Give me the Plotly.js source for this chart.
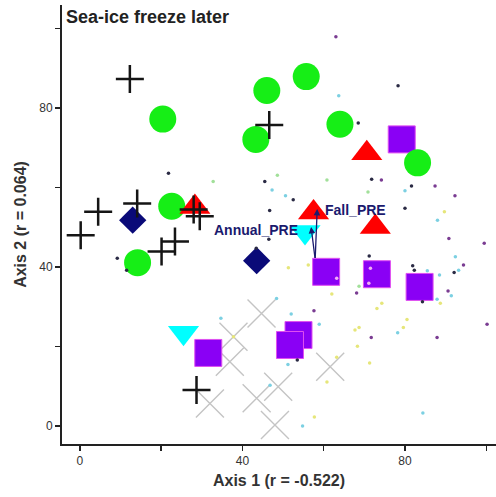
<!DOCTYPE html>
<html>
<head>
<meta charset="utf-8">
<script src="https://cdn.plot.ly/plotly-3.0.1.min.js"></script>
<style>html,body{margin:0;padding:0;background:#fff;}#chart{width:496px;height:497px;}</style>
</head>
<body>
<div id="chart"></div>
<script>
// Sample groups (ordination scores: Axis 1, Axis 2)
var crossX = [12.3, 0.2, 4.5, 14.1, 20.1, 23.4, 28.0, 29.5, 46.6, 28.7];
var crossY = [87.3, 48.0, 53.9, 56.0, 43.9, 46.4, 54.5, 52.8, 75.7, 9.1];

var circleX = [20.4, 22.6, 14.2, 46.0, 55.7, 43.3, 64.0, 83.1];
var circleY = [77.2, 55.3, 41.1, 84.4, 87.9, 72.1, 75.9, 66.2];

var triUpX = [28.3, 70.6, 72.7, 57.5];
var triUpY = [55.1, 68.6, 50.1, 53.7];

var triDownX = [55.4, 25.5];
var triDownY = [48.8, 23.5];

var diamondX = [13.0, 43.5];
var diamondY = [51.8, 41.6];

var squareX = [79.2, 60.6, 73.1, 83.6, 31.6, 53.8, 51.7];
var squareY = [72.1, 38.8, 38.2, 35.0, 18.4, 22.9, 20.4];

var xMarkX = [44.7, 37.8, 36.9, 32.0, 43.5, 48.8, 48.0, 61.6];
var xMarkY = [28.3, 22.5, 16.2, 5.7, 7.0, 9.9, 0.3, 14.9];

// Species scores (small dots), grouped by colour
var spDarkX = [78.3, 68.5, 45.5, 52.5, 46.7, 71.8, 81.6, 80.0, 46.5, 21.8, 9.2, 11.5, 71.2, 81.9, 82.3, 92.1, 84.3, 53.5, 43.4];
var spDarkY = [85.6, 76.2, 61.5, 56.9, 54.2, 62.1, 60.4, 54.8, 47.0, 63.6, 42.2, 39.2, 42.8, 40.3, 39.2, 38.6, 31.3, 16.6, 44.7];
var spPurpleX = [63.0, 74.2, 87.4, 92.3, 90.8, 99.5, 94.4, 90.6, 68.1, 71.7, 87.9, 100.2, 57.6];
var spPurpleY = [97.9, 61.9, 60.4, 57.9, 47.2, 46.0, 40.5, 34.0, 33.5, 22.3, 22.3, 25.6, 29.0];
var spCyanX = [63.7, 47.3, 50.6, 80.0, 88.0, 48.4, 85.5, 88.5, 92.4, 93.2, 87.9, 91.4, 78.2, 84.4, 34.7, 52.0, 58.9, 51.2, 46.8, 54.8];
var spCyanY = [83.1, 59.4, 57.9, 59.2, 51.8, 32.1, 39.1, 38.0, 42.6, 39.2, 31.9, 32.8, 23.5, 3.3, 27.1, 28.2, 25.6, 15.5, 10.3, 0.0];
var spGreenX = [48.6, 60.8, 70.9, 32.8, 68.7];
var spGreenY = [63.1, 61.9, 58.9, 61.5, 35.2];
var spYellowX = [89.7, 51.3, 56.2, 74.3, 73.1, 88.7, 80.5, 79.6, 68.7, 67.7, 68.3, 71.3, 62.0, 37.8, 60.8, 57.7, 63.2];
var spYellowY = [53.9, 39.8, 40.5, 30.9, 29.6, 30.9, 26.8, 24.8, 24.8, 24.2, 20.1, 15.9, 33.2, 22.5, 11.1, 2.3, 17.3];
var spPinkX = [71.5, 71.1, 63.2];
var spPinkY = [39.7, 35.9, 37.2];

// Environmental vectors
var vecNames = ['Fall_PRE', 'Annual_PRE'];
var vecBaseX = 57.9, vecBaseY = 41.9;
var vecTipX = [58.4, 56.9];
var vecTipY = [54.6, 50.1];

var tickVals = [0, 20, 40, 60, 80, 100];
var tickText = ['0', '', '40', '', '80', ''];

var navy = '#1a1a6e';
var fam = 'Liberation Sans, Arial, sans-serif';

function dots(x, y, color) {
  return {type: 'scatter', mode: 'markers', x: x, y: y, hoverinfo: 'skip',
    marker: {size: 3.5, color: color, line: {width: 0}}};
}

var traces = [
  {type: 'scatter', mode: 'markers', x: xMarkX, y: xMarkY,
    marker: {symbol: 'x-thin', size: 28, line: {width: 1.4, color: '#c4c4c4'}}},
  {type: 'scatter', mode: 'markers', x: squareX, y: squareY,
    marker: {symbol: 'square', size: 27, color: '#8a00f5', line: {width: 1, color: '#e050f0'}}},
  {type: 'scatter', mode: 'markers', x: circleX, y: circleY,
    marker: {symbol: 'circle', size: 27, color: '#16ee16', line: {width: 0}}},
  {type: 'scatter', mode: 'markers', x: triDownX, y: triDownY,
    marker: {symbol: 'triangle-down', size: 27, color: '#00ffff', line: {width: 0}}},
  {type: 'scatter', mode: 'markers', x: triUpX, y: triUpY,
    marker: {symbol: 'triangle-up', size: 27, color: '#ff0000', line: {width: 0}}},
  {type: 'scatter', mode: 'markers', x: diamondX, y: diamondY,
    marker: {symbol: 'diamond', size: 21, color: '#0a0a78', line: {width: 0}}},
  {type: 'scatter', mode: 'markers', x: crossX, y: crossY,
    marker: {symbol: 'cross-thin', size: 20, line: {width: 2.5, color: '#151515'}}},
  dots(spYellowX, spYellowY, '#e6e67a'),
  dots(spGreenX, spGreenY, '#a2e09a'),
  dots(spCyanX, spCyanY, '#7cd0e2'),
  dots(spPurpleX, spPurpleY, '#7a3c92'),
  dots(spDarkX, spDarkY, '#2a2a44'),
  dots(spPinkX, spPinkY, '#f2b0f2')
];

var annotations = [];
for (var i = 0; i < vecNames.length; i++) {
  annotations.push({
    x: vecTipX[i], y: vecTipY[i], xref: 'x', yref: 'y',
    ax: vecBaseX, ay: vecBaseY, axref: 'x', ayref: 'y',
    text: '', showarrow: true, arrowhead: 2, arrowsize: 1, arrowwidth: 1.3,
    arrowcolor: navy, standoff: 0, startstandoff: 0
  });
}
annotations.push({x: vecTipX[0] + 1.4, y: vecTipY[0] - 0.3, xref: 'x', yref: 'y',
  text: '<b>' + vecNames[0] + '</b>', showarrow: false, xanchor: 'left', yanchor: 'middle',
  font: {family: fam, size: 14, color: navy}});
annotations.push({x: vecTipX[1] - 2.8, y: vecTipY[1] - 0.8, xref: 'x', yref: 'y',
  text: '<b>' + vecNames[1] + '</b>', showarrow: false, xanchor: 'right', yanchor: 'middle',
  font: {family: fam, size: 14, color: navy}});

var axisCommon = {
  showline: true, linecolor: '#222', linewidth: 2, mirror: false,
  showgrid: false, zeroline: false,
  ticks: 'outside', ticklen: 5, tickwidth: 1.5, tickcolor: '#222',
  tickvals: tickVals, ticktext: tickText,
  tickfont: {family: fam, size: 12, color: '#333'}
};

var layout = {
  width: 496, height: 497,
  margin: {l: 62, r: 0, t: 5, b: 53},
  paper_bgcolor: '#fff', plot_bgcolor: '#fff',
  showlegend: false,
  font: {family: fam, color: '#222'},
  title: {text: '<b>Sea-ice freeze later</b>', xref: 'container', yref: 'container',
    x: 66 / 496, xanchor: 'left', y: 1 - 17 / 497, yanchor: 'middle',
    font: {family: fam, size: 18, color: '#222'}},
  xaxis: Object.assign({}, axisCommon, {range: [-4.4, 102.4],
    title: {text: '<b>Axis 1 (r = -0.522)</b>', standoff: 7,
      font: {family: fam, size: 16, color: '#333'}}}),
  yaxis: Object.assign({}, axisCommon, {range: [-4.5, 105.9],
    title: {text: '<b>Axis 2 (r = 0.064)</b>', standoff: 9,
      font: {family: fam, size: 16, color: '#333'}}}),
  annotations: annotations
};

Plotly.newPlot('chart', traces, layout, {displayModeBar: false, staticPlot: true});
</script>
</body>
</html>
